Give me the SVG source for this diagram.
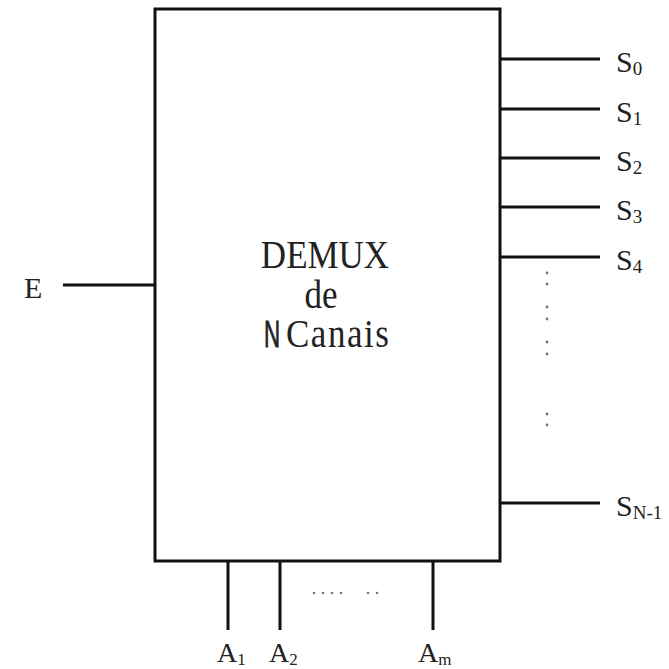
<svg xmlns="http://www.w3.org/2000/svg" width="669" height="669" viewBox="0 0 669 669">
<style>
.ln{stroke:#111;stroke-width:3;fill:none}
.t{font-family:"Liberation Serif","Times New Roman",serif;fill:#222}
.lbl{font-size:30px}
.sub{font-size:19px}
.dot{fill:#777}
</style>
<rect width="669" height="669" fill="#fff"/>
<g id="demux">
<rect class="ln" x="155" y="9" width="345" height="552"/>
<text class="t" transform="translate(325,268) scale(1,1.12)" font-size="35" text-anchor="middle">DEMUX</text>
<text class="t" transform="translate(321,308) scale(1,1.12)" font-size="35" text-anchor="middle">de</text>
<text transform="translate(264,347) scale(0.62,1.05)" font-size="36" font-family="'Liberation Sans',Arial,sans-serif" fill="#222" stroke="#222" stroke-width="0.8">N</text>
<text class="t" transform="translate(286,347) scale(1,1.12)" font-size="35" textLength="103" lengthAdjust="spacing">Canais</text>
</g>
<g id="connectors">
<line class="ln" x1="63" y1="285" x2="155" y2="285"/>
<line class="ln" x1="500" y1="59" x2="600" y2="59"/>
<line class="ln" x1="500" y1="109" x2="600" y2="109"/>
<line class="ln" x1="500" y1="158" x2="600" y2="158"/>
<line class="ln" x1="500" y1="207" x2="600" y2="207"/>
<line class="ln" x1="500" y1="257" x2="600" y2="257"/>
<line class="ln" x1="500" y1="503" x2="600" y2="503"/>
<line class="ln" x1="228" y1="561" x2="228" y2="630"/>
<line class="ln" x1="280" y1="561" x2="280" y2="630"/>
<line class="ln" x1="433" y1="561" x2="433" y2="630" stroke="#555"/>
</g>
<g id="input-E"><text class="t lbl" x="24" y="298">E</text></g>
<g id="outputs">
<text class="t lbl" x="616" y="72">S<tspan class="sub" dy="3">0</tspan></text>
<text class="t lbl" x="616" y="122">S<tspan class="sub" dy="3">1</tspan></text>
<text class="t lbl" x="616" y="171">S<tspan class="sub" dy="3">2</tspan></text>
<text class="t lbl" x="616" y="220">S<tspan class="sub" dy="3">3</tspan></text>
<text class="t lbl" x="616" y="270">S<tspan class="sub" dy="3">4</tspan></text>
<text class="t lbl" x="616" y="516">S<tspan class="sub" dy="3" font-size="17">N-1</tspan></text>
</g>
<g id="vdots">
<circle class="dot" cx="547" cy="273" r="1.4"/><circle class="dot" cx="547" cy="284" r="1.4"/>
<circle class="dot" cx="547" cy="307" r="1.4"/><circle class="dot" cx="547" cy="319" r="1.4"/>
<circle class="dot" cx="547" cy="342" r="1.4"/><circle class="dot" cx="547" cy="354" r="1.4"/>
<circle class="dot" cx="547" cy="414" r="1.4"/><circle class="dot" cx="547" cy="425" r="1.4"/>
</g>
<g id="hdots">
<circle class="dot" cx="314" cy="593" r="1.3"/><circle class="dot" cx="323" cy="593" r="1.3"/>
<circle class="dot" cx="332" cy="593" r="1.3"/><circle class="dot" cx="341" cy="593" r="1.3"/>
<circle class="dot" cx="368" cy="593" r="1.3"/><circle class="dot" cx="377" cy="593" r="1.3"/>
</g>
<g id="selects">
<text class="t" font-size="28" x="217" y="662">A<tspan font-size="17" dy="3">1</tspan></text>
<text class="t" font-size="28" x="269" y="662">A<tspan font-size="17" dy="3">2</tspan></text>
<text class="t" font-size="28" x="418" y="662">A<tspan font-size="17" dy="3">m</tspan></text>
</g>
</svg>
